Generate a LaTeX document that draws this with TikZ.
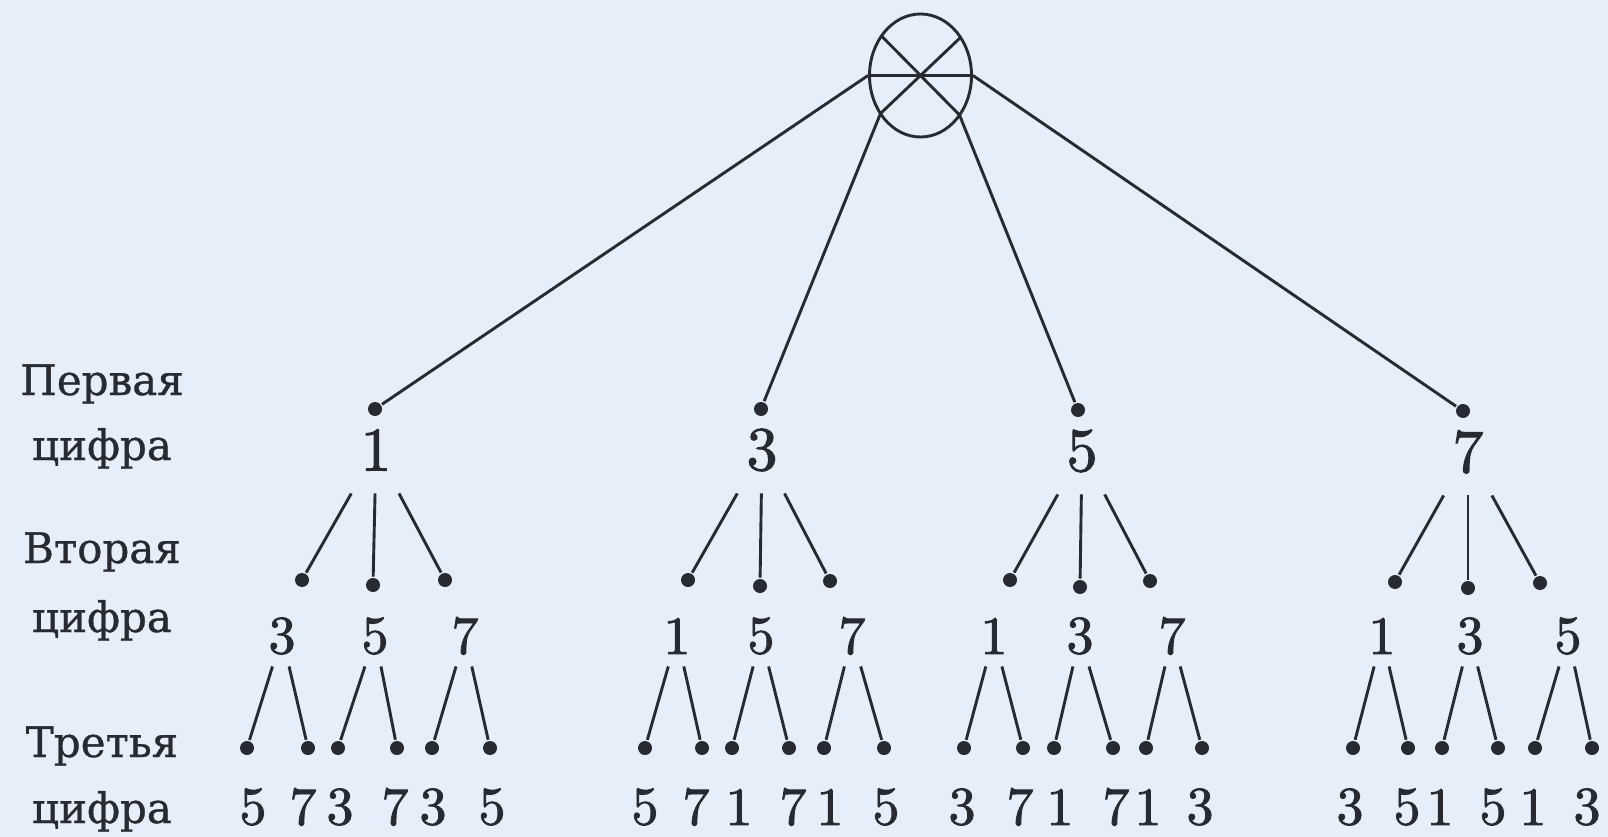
\documentclass[tikz,border=0pt]{standalone}
\usepackage{fontspec}
\newfontfamily\labfont[FakeBold=0.8]{DejaVu Serif}
\newfontfamily\digfont[FakeBold=1.6]{lmroman10-regular.otf}
\usetikzlibrary{shapes.geometric,calc}
\definecolor{bg}{RGB}{229,238,249}
\definecolor{ink}{RGB}{40,42,50}
\begin{document}
\begin{tikzpicture}[x=1pt,y=-1pt,line width=2.9pt,ink,
  dot/.style={circle,fill=ink,draw=none,inner sep=0pt,minimum size=14pt},
  dga/.style={inner sep=0pt,minimum width=80pt,minimum height=84pt,font=\digfont\fontsize{62}{62}\selectfont},
  dgb/.style={inner sep=0pt,minimum width=40pt,minimum height=58pt,font=\digfont\fontsize{54}{54}\selectfont},
  dgc/.style={inner sep=0pt,font=\digfont\fontsize{54}{54}\selectfont},
  lab/.style={anchor=base,inner sep=0pt,font=\labfont\fontsize{42}{42}\selectfont},
  rootshape/.style={draw,ellipse,minimum width=102pt,minimum height=123pt,inner sep=0pt}]
\useasboundingbox (0,0) rectangle (1608,837);
\fill[bg] (0,0) rectangle (1608,837);

% labels
\node[lab] (l1a) at (102,395) {Первая};
\node[lab] (l1b) at (102,460) {цифра};
\node[lab] (l2a) at (102,563) {Вторая};
\node[lab] (l2b) at (102,632) {цифра};
\node[lab] (l3a) at (102,757) {Третья};
\node[lab] (l3b) at (102,823) {цифра};

% root
\node[rootshape] (root) at (920.5,75.5) {};
\coordinate (rtl) at ($(root.center)+(-39,-39.5)$);
\coordinate (rbr) at ($(root.center)+(39,39.5)$);
\coordinate (rtr) at ($(root.center)+(40,-38)$);
\coordinate (rbl) at ($(root.center)+(-40,38)$);
\draw (rtl) -- (rbr);
\draw (rtr) -- (rbl);
\draw (root.west) -- (root.east);

% level 1
\node[dot] (a1) at (375,409) {};
\node[dot] (a2) at (761,409) {};
\node[dot] (a3) at (1078,410) {};
\node[dot] (a4) at (1463,411) {};
\node[dga] (n1) at (376,450) {1};
\node[dga] (n2) at (762,450) {3};
\node[dga] (n3) at (1082,451) {5};
\node[dga] (n4) at (1468,452) {7};
\draw (root.west) -- (a1);
\draw (rbl) -- (a2);
\draw (rbr) -- (a3);
\draw (root.east) -- (a4);

% level 2
\foreach \nm/\x/\y in {11/302/580,12/373/585,13/445/580,
                      21/688/580,22/760/586,23/830/581,
                      31/1010/580,32/1080/587,33/1150/581,
                      41/1395/582,42/1468/588,43/1540/583}
  \node[dot] (b\nm) at (\x,\y) {};
\foreach \nm/\x/\d in {11/282/3,12/375/5,13/465/7,
                      21/677/1,22/761/5,23/852/7,
                      31/994/1,32/1080/3,33/1172/7,
                      41/1382/1,42/1470/3,43/1568/5}
  \node[dgb] (m\nm) at (\x,636) {\d};
\foreach \p in {1,2,3,4}
  \foreach \q in {1,2,3}
    \draw (n\p) -- (b\p\q);

% level 3
\foreach \nm/\x/\tx/\d in {111/247/253/5,112/308/303/7,
                          121/338/340/3,122/397/395/7,
                          131/432/433/3,132/490/492/5,
                          211/645/645/5,212/702/696/7,
                          221/732/739/1,222/789/793/7,
                          231/824/830/1,232/884/886/5,
                          311/964/962/3,312/1023/1020/7,
                          321/1054/1060/1,322/1113/1116/7,
                          331/1146/1148/1,332/1202/1200/3,
                          411/1353/1350/3,412/1408/1407/5,
                          421/1442/1440/1,422/1498/1493/5,
                          431/1535/1533/1,432/1592/1587/3}
{
  \node[dot] (c\nm) at (\x,748) {};
  \node[dgc] (t\nm) at (\tx,807) {\d};
}
\foreach \p in {1,2,3,4}
  \foreach \q in {1,2,3}
    \foreach \r in {1,2}
      \draw (m\p\q) -- (c\p\q\r);
\end{tikzpicture}
\end{document}
